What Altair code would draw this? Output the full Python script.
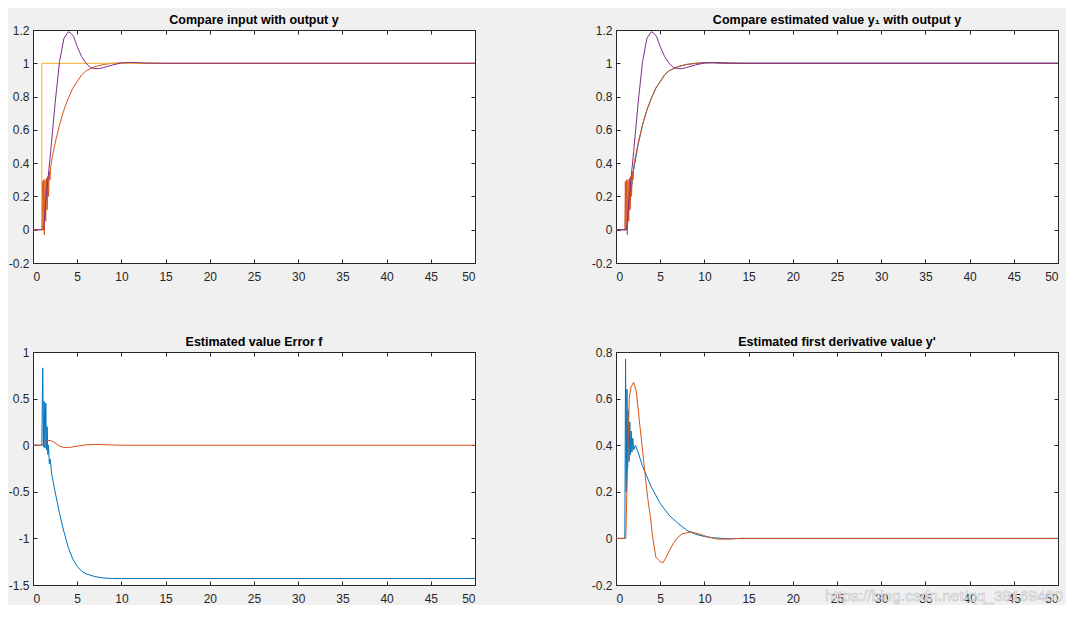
import altair as alt
import pandas as pd

# ---------------- data ----------------
X_TICKS = [0, 5, 10, 15, 20, 25, 30, 35, 40, 45, 50]

# input step (yellow)
T_U = [0, 1.0, 1.0, 50]
U = [0, 0, 1, 1]

# estimated y1 (orange, with early chattering)
T_Y1 = [0, 1.0, 1.06, 1.12, 1.2, 1.28, 1.36, 1.44, 1.52, 1.6, 1.68, 1.76, 1.84, 1.92, 2.0,
        2.2, 2.5, 3.0, 3.5, 4.0, 4.5, 5.0, 5.5, 6.0, 7.0, 8.0, 9.0, 10.0, 11.0, 12.0, 14.0, 50]
Y1 = [0, 0, 0.29, 0.0, 0.30, -0.03, 0.30, 0.05, 0.31, 0.12, 0.32, 0.20, 0.35, 0.30, 0.38,
      0.44, 0.52, 0.63, 0.72, 0.79, 0.85, 0.89, 0.93, 0.955, 0.98, 0.993, 1.0, 1.003, 1.003, 1.001, 1.0, 1.0]

# purple response
T_P = [0, 1.2, 1.5, 2.0, 2.5, 3.0, 3.5, 4.0, 4.3, 4.6, 5.0, 5.5, 6.0, 6.5, 7.0, 7.5, 8.0,
       9.0, 10.0, 11.0, 12.0, 13.0, 15.0, 50]
P = [0, 0, 0.2, 0.47, 0.76, 1.01, 1.15, 1.19, 1.18, 1.16, 1.1, 1.04, 1.0, 0.975, 0.968, 0.968, 0.975,
     0.99, 1.002, 1.005, 1.003, 1.001, 1.0, 1.0]

# output y (blue, smooth)
T_Y = [0, 1.2, 1.5, 2.0, 2.5, 3.0, 3.5, 4.0, 4.5, 5.0, 5.5, 6.0, 7.0, 8.0, 9.0, 10.0, 11.0, 12.0, 14.0, 50]
Y = [0, 0, 0.15, 0.36, 0.51, 0.63, 0.72, 0.79, 0.85, 0.89, 0.93, 0.955, 0.98, 0.993, 1.0, 1.003, 1.003, 1.001, 1.0, 1.0]

# error f (blue)
T_F = [0, 1.0, 1.1, 1.18, 1.27, 1.35, 1.45, 1.52, 1.6, 1.68, 1.75, 1.85, 1.95, 2.1, 2.3, 2.5,
       3.0, 3.5, 4.0, 4.5, 5.0, 5.5, 6.0, 7.0, 8.0, 9.0, 10.0, 50]
F = [0, 0, 0.83, -0.02, 0.47, -0.03, 0.45, -0.05, 0.2, -0.1, 0.0, -0.2, -0.15, -0.3, -0.4, -0.5,
     -0.73, -0.93, -1.1, -1.22, -1.3, -1.35, -1.38, -1.41, -1.425, -1.43, -1.43, -1.43]

# error (orange)
T_E = [0, 1.0, 1.3, 1.7, 2.0, 2.4, 3.0, 3.5, 4.0, 4.5, 5.0, 6.0, 7.0, 8.0, 9.0, 10.0, 50]
E = [0, 0, 0.03, 0.05, 0.05, 0.03, -0.01, -0.025, -0.025, -0.018, -0.01, 0.004, 0.008, 0.006, 0.002, 0.0, 0.0]

# first derivative estimate (blue)
T_D = [0, 1.0, 1.08, 1.16, 1.24, 1.32, 1.40, 1.48, 1.56, 1.64, 1.72, 1.80, 1.9, 2.0, 2.2, 2.5,
       3.0, 3.5, 4.0, 4.5, 5.0, 5.5, 6.0, 7.0, 8.0, 9.0, 10.0, 11.0, 12.0, 13.0, 14.0, 50]
D = [0, 0, 0.77, 0.2, 0.64, 0.3, 0.55, 0.33, 0.5, 0.36, 0.46, 0.37, 0.43, 0.38, 0.4, 0.37,
     0.31, 0.265, 0.22, 0.185, 0.15, 0.125, 0.1, 0.065, 0.035, 0.018, 0.008, 0.003, 0.0, -0.002, 0.0, 0.0]

# first derivative (orange)
T_DD = [0, 1.1, 1.3, 1.5, 1.7, 2.0, 2.3, 2.6, 3.0, 3.3, 3.6, 3.9, 4.1, 4.5, 5.0, 5.3, 5.7, 6.0,
        6.5, 7.0, 7.5, 8.5, 9.5, 10.5, 11.5, 12.5, 14.0, 50]
DD = [0, 0, 0.3, 0.6, 0.65, 0.67, 0.63, 0.52, 0.38, 0.27, 0.17, 0.09, 0.02, -0.08, -0.1, -0.105, -0.08, -0.055,
      -0.02, 0.005, 0.02, 0.028, 0.018, 0.005, -0.003, -0.003, 0.0, 0.0]

TITLES = ["Compare input with output y",
          "Compare estimated value y\u2081 with output y",
          "Estimated value Error f",
          "Estimated first derivative value y'"]
WATERMARK = "https://blog.csdn.net/qq_38169460"

# ---------------- styling ----------------
FONT = "Liberation Sans"
AX = "#262626"
BLUE = "#0072BD"
ORANGE = "#D95319"
YELLOW = "#EDB120"
PURPLE = "#7E2F8E"
W, H = 442, 233


def ax(orient, values, labels=True, pad=5):
    kw = dict(orient=orient, values=values, grid=False, domain=False, tickSize=4, offset=-4,
              tickColor=AX, tickWidth=1, title=None, labels=labels)
    if labels:
        kw.update(labelColor=AX, labelFont=FONT, labelFontSize=12, labelPadding=pad,
                  labelExpr="toString(datum.value)")
    return alt.Axis(**kw)


def panel(series, ydom, yticks, title, extra=None):
    xs = alt.Scale(domain=[0, 50], nice=False, zero=False)
    ys = alt.Scale(domain=ydom, nice=False, zero=False)
    layers = []
    for i, (t, v, c) in enumerate(series):
        df = pd.DataFrame({"t": t, "v": v, "i": list(range(len(t)))})
        xa = ax("bottom", X_TICKS, pad=8) if i == 0 else None
        ya = ax("left", yticks, pad=4) if i == 0 else None
        layers.append(
            alt.Chart(df).mark_line(color=c, strokeWidth=1).encode(
                x=alt.X("t:Q", scale=xs, axis=xa),
                y=alt.Y("v:Q", scale=ys, axis=ya),
                order=alt.Order("i:Q"),
            )
        )
    t0, v0, _ = series[0]
    df0 = pd.DataFrame({"t": t0, "v": v0})
    layers.append(
        alt.Chart(df0).mark_line(opacity=0).encode(
            x=alt.X("t:Q", scale=xs, axis=ax("top", X_TICKS, labels=False)),
            y=alt.Y("v:Q", scale=ys, axis=ax("right", yticks, labels=False)),
        )
    )
    if extra is not None:
        layers.append(extra)
    return (
        alt.layer(*layers)
        .resolve_axis(x="independent", y="independent")
        .properties(
            width=W, height=H,
            title=alt.TitleParams(title, font=FONT, fontSize=12.5, fontWeight="bold",
                                  color="black", offset=-2, anchor="middle"),
        )
    )


wm = alt.Chart(pd.DataFrame({"s": [WATERMARK]})).mark_text(
    align="left", baseline="alphabetic", font=FONT, fontSize=15.5,
    color="white", stroke="#bdbdbd", strokeWidth=0.6, opacity=0.9,
).encode(x=alt.value(209), y=alt.value(249), text="s:N")

p1 = panel([(T_Y1, Y1, ORANGE), (T_U, U, YELLOW), (T_P, P, PURPLE)],
           [-0.2, 1.2], [-0.2, 0, 0.2, 0.4, 0.6, 0.8, 1, 1.2], TITLES[0])
p2 = panel([(T_Y, Y, BLUE), (T_Y1, Y1, ORANGE), (T_P, P, PURPLE)],
           [-0.2, 1.2], [-0.2, 0, 0.2, 0.4, 0.6, 0.8, 1, 1.2], TITLES[1])
p3 = panel([(T_F, F, BLUE), (T_E, E, ORANGE)],
           [-1.5, 1], [-1.5, -1, -0.5, 0, 0.5, 1], TITLES[2])
p4 = panel([(T_D, D, BLUE), (T_DD, DD, ORANGE)],
           [-0.2, 0.8], [-0.2, 0, 0.2, 0.4, 0.6, 0.8], TITLES[3], extra=wm)

chart = (
    alt.concat(p1, p2, p3, p4, columns=2, spacing={"row": 89, "column": 141}, bounds="flush")
    .properties(background="#f0f0f0", padding={"left": -1, "top": 5, "right": 2, "bottom": 0})
    .configure_view(stroke=AX, strokeWidth=1, fill="white")
)

chart.save("out.html", embed_options={"renderer": "svg", "actions": False})
